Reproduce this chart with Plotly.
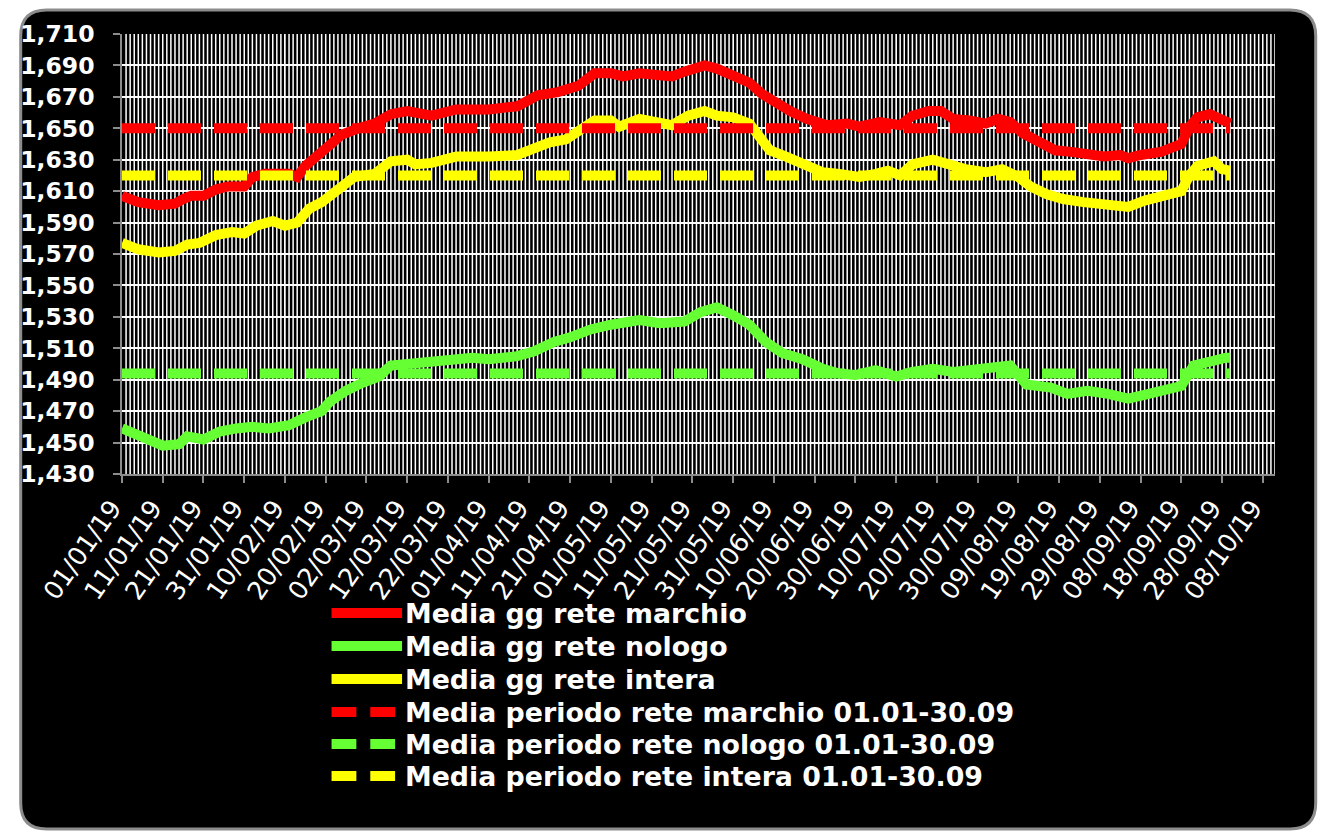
import plotly.graph_objects as go
import pandas as pd

# ---------------- data ----------------
marchio_dates = ["2019-01-01","2019-01-05","2019-01-10","2019-01-14","2019-01-16","2019-01-18","2019-01-21","2019-01-24",
    "2019-01-27","2019-01-31","2019-02-02","2019-02-05","2019-02-11","2019-02-13","2019-02-15","2019-02-18","2019-02-21",
    "2019-02-24","2019-02-28","2019-03-04","2019-03-08","2019-03-12","2019-03-18","2019-03-24","2019-04-01","2019-04-08",
    "2019-04-13","2019-04-18","2019-04-23","2019-04-27","2019-05-01","2019-05-04","2019-05-08","2019-05-13","2019-05-16",
    "2019-05-19","2019-05-24","2019-05-27","2019-05-31","2019-06-04","2019-06-07","2019-06-10","2019-06-14","2019-06-18",
    "2019-06-23","2019-06-28","2019-07-01","2019-07-06","2019-07-11","2019-07-14","2019-07-18","2019-07-21","2019-07-24",
    "2019-07-28","2019-08-01","2019-08-04","2019-08-07","2019-08-10","2019-08-14","2019-08-18","2019-08-22","2019-08-26",
    "2019-08-30","2019-09-03","2019-09-05","2019-09-08","2019-09-13","2019-09-16","2019-09-18","2019-09-20","2019-09-22",
    "2019-09-25","2019-09-28","2019-09-30"]
marchio_values = [1.607,1.603,1.601,1.602,1.605,1.607,1.607,1.611,
    1.613,1.613,1.619,1.621,1.621,1.619,1.626,1.633,1.640,
    1.646,1.650,1.653,1.659,1.661,1.658,1.662,1.662,1.664,
    1.671,1.673,1.677,1.685,1.685,1.683,1.685,1.683,1.683,
    1.686,1.690,1.688,1.684,1.679,1.672,1.667,1.661,1.656,
    1.652,1.653,1.651,1.654,1.652,1.658,1.661,1.661,1.656,
    1.655,1.653,1.656,1.654,1.647,1.641,1.636,1.635,1.634,
    1.632,1.633,1.631,1.633,1.635,1.638,1.640,1.651,1.657,
    1.659,1.656,1.653]

nologo_dates = ["2019-01-01","2019-01-05","2019-01-08","2019-01-11","2019-01-15","2019-01-17","2019-01-21","2019-01-25",
    "2019-01-29","2019-02-02","2019-02-06","2019-02-11","2019-02-15","2019-02-19","2019-02-21","2019-02-25","2019-03-01",
    "2019-03-05","2019-03-08","2019-03-12","2019-03-16","2019-03-22","2019-03-28","2019-04-01","2019-04-08","2019-04-12",
    "2019-04-17","2019-04-21","2019-04-26","2019-05-01","2019-05-08","2019-05-13","2019-05-19","2019-05-23","2019-05-27",
    "2019-05-31","2019-06-04","2019-06-08","2019-06-12","2019-06-17","2019-06-22","2019-06-26","2019-06-30","2019-07-05",
    "2019-07-10","2019-07-14","2019-07-19","2019-07-24","2019-07-29","2019-08-02","2019-08-07","2019-08-11","2019-08-17",
    "2019-08-21","2019-08-26","2019-08-31","2019-09-05","2019-09-10","2019-09-15","2019-09-18","2019-09-21","2019-09-25",
    "2019-09-29","2019-09-30"]
nologo_values = [1.459,1.454,1.451,1.448,1.449,1.454,1.452,1.457,
    1.459,1.460,1.459,1.461,1.466,1.470,1.476,1.483,1.488,
    1.492,1.499,1.500,1.502,1.502,1.504,1.503,1.505,1.508,
    1.514,1.517,1.522,1.525,1.528,1.526,1.527,1.533,1.536,
    1.531,1.525,1.514,1.507,1.503,1.497,1.494,1.493,1.496,
    1.492,1.495,1.497,1.495,1.496,1.497,1.499,1.487,1.485,
    1.481,1.483,1.481,1.478,1.481,1.484,1.486,1.499,1.502,
    1.504,1.504]

intera_dates = ["2019-01-01","2019-01-05","2019-01-10","2019-01-14","2019-01-17","2019-01-20","2019-01-24","2019-01-28",
    "2019-01-31","2019-02-03","2019-02-07","2019-02-10","2019-02-13","2019-02-16","2019-02-19","2019-02-23","2019-02-27",
    "2019-03-04","2019-03-08","2019-03-12","2019-03-14","2019-03-18","2019-03-24","2019-04-01","2019-04-08","2019-04-12",
    "2019-04-16","2019-04-20","2019-04-24","2019-04-27","2019-05-01","2019-05-03","2019-05-08","2019-05-13","2019-05-16",
    "2019-05-20","2019-05-24","2019-05-27","2019-05-31","2019-06-04","2019-06-07","2019-06-09","2019-06-13","2019-06-17",
    "2019-06-22","2019-06-26","2019-07-01","2019-07-05","2019-07-08","2019-07-11","2019-07-14","2019-07-19","2019-07-23",
    "2019-07-27","2019-08-01","2019-08-05","2019-08-09","2019-08-12","2019-08-16","2019-08-20","2019-08-25","2019-08-30",
    "2019-09-02","2019-09-05","2019-09-09","2019-09-13","2019-09-18","2019-09-20","2019-09-22","2019-09-26","2019-09-28",
    "2019-09-30"]
intera_values = [1.577,1.573,1.571,1.572,1.576,1.577,1.582,1.584,
    1.583,1.588,1.591,1.588,1.590,1.599,1.603,1.611,1.619,
    1.621,1.629,1.630,1.627,1.628,1.632,1.632,1.633,1.637,
    1.641,1.643,1.649,1.655,1.655,1.651,1.656,1.653,1.652,
    1.658,1.661,1.658,1.657,1.653,1.642,1.636,1.632,1.628,
    1.622,1.621,1.619,1.621,1.623,1.620,1.627,1.630,1.627,
    1.624,1.622,1.624,1.619,1.613,1.608,1.605,1.603,1.602,
    1.601,1.600,1.604,1.606,1.610,1.620,1.626,1.629,1.624,
    1.623]

period_dates = ["2019-01-01", "2019-09-30"]
avg_marchio = 1.650
avg_nologo = 1.494
avg_intera = 1.620

names_daily = ["Media gg rete marchio", "Media gg rete nologo", "Media gg rete intera"]
names_period = ["Media periodo rete marchio 01.01-30.09",
                "Media periodo rete nologo 01.01-30.09",
                "Media periodo rete intera 01.01-30.09"]

x_range = ["2019-01-01", "2019-10-11"]

# ---------------- styles ----------------
RED, GREEN, YELLOW = "#FF0000", "#66FF33", "#FFFF00"
OFF = 8                       # page body margin
W, H = 1318, 831
L, R, T, B = 106, 51, 26, 365
PW, PH = W - L - R, H - T - B
DASH = "33px,13px"
LW = 10
GRAY = "#8c8c8c"


def px(x):  # screen x -> paper
    return (x - OFF - L) / PW


def py(y):  # screen y -> paper
    return (H - B - (y - OFF)) / PH


fig = go.Figure()
daily = [(marchio_dates, marchio_values, RED),
         (nologo_dates, nologo_values, GREEN),
         (intera_dates, intera_values, YELLOW)]
for (d, v, c), n in zip(daily, names_daily):
    fig.add_trace(go.Scatter(x=d, y=v, mode="lines", name=n, showlegend=False,
                             line=dict(color=c, width=LW)))
period = [(avg_marchio, RED), (avg_nologo, GREEN), (avg_intera, YELLOW)]
for (a, c), n in zip(period, names_period):
    fig.add_trace(go.Scatter(x=period_dates, y=[a, a], mode="lines", name=n, showlegend=False,
                             line=dict(color=c, width=LW, dash=DASH)))

# rounded border
x0, x1 = px(12), px(1316)
y0, y1 = py(829), py(10)
rx, ry = 26 / PW, 26 / PH
path = (f"M {x0+rx},{y1} L {x1-rx},{y1} Q {x1},{y1} {x1},{y1-ry} L {x1},{y0+ry} "
        f"Q {x1},{y0} {x1-rx},{y0} L {x0+rx},{y0} Q {x0},{y0} {x0},{y0+ry} "
        f"L {x0},{y1-ry} Q {x0},{y1} {x0+rx},{y1} Z")
shapes = [dict(type="path", path=path, xref="paper", yref="paper", fillcolor="black",
               line=dict(color=GRAY, width=3), layer="below")]

# daily vertical gridlines
for d in pd.date_range(x_range[0], x_range[1], freq="D")[1:]:
    shapes.append(dict(type="line", xref="x", yref="paper", x0=d, x1=d, y0=0, y1=1,
                       line=dict(color="white", width=1.5), layer="below"))

# manual legend
annotations = []
row_y = [613, 646, 679, 712, 744, 776]
colors = [RED, GREEN, YELLOW, RED, GREEN, YELLOW]
labels = names_daily + names_period
for i, (yy, c, lab) in enumerate(zip(row_y, colors, labels)):
    if i < 3:
        segs = [(325, 396)]
    else:
        segs = [(325, 350), (364, 389)]
    for a, b in segs:
        shapes.append(dict(type="line", xref="paper", yref="paper", x0=px(a), x1=px(b),
                           y0=py(yy), y1=py(yy), line=dict(color=c, width=LW)))
    annotations.append(dict(text=lab, x=px(397), y=py(yy), xref="paper", yref="paper",
                            xanchor="left", yanchor="middle", showarrow=False,
                            font=dict(family="DejaVu Sans", size=26.8, color="white", weight="bold")))

DAY = 86400000
fig.update_layout(
    width=W, height=H,
    margin=dict(l=L, r=R, t=T, b=B),
    paper_bgcolor="white", plot_bgcolor="black",
    separators=",.",
    showlegend=False,
    shapes=shapes, annotations=annotations,
    xaxis=dict(type="date", range=x_range,
               tick0="2019-01-01", dtick=10 * DAY, tickformat="%d/%m/%y",
               tickangle=-55, tickfont=dict(family="DejaVu Sans", size=25.5, color="white"),
               ticklabelshift=-10,
               ticks="outside", ticklen=7, tickwidth=1.5, tickcolor=GRAY,
               showline=True, linecolor=GRAY, linewidth=1.5,
               showgrid=True, gridcolor="white", gridwidth=1, zeroline=False),
    yaxis=dict(range=[1.43, 1.71], tick0=1.43, dtick=0.02, tickformat=".3f",
               tickfont=dict(family="DejaVu Sans", size=23.5, color="white", weight="bold"),
               ticks="outside", ticklen=7, tickwidth=1.5, tickcolor=GRAY,
               ticklabelstandoff=14,
               showline=True, linecolor=GRAY, linewidth=1.5,
               showgrid=True, gridcolor="white", gridwidth=1.5, zeroline=False),
)

fig.write_html("out.html")
